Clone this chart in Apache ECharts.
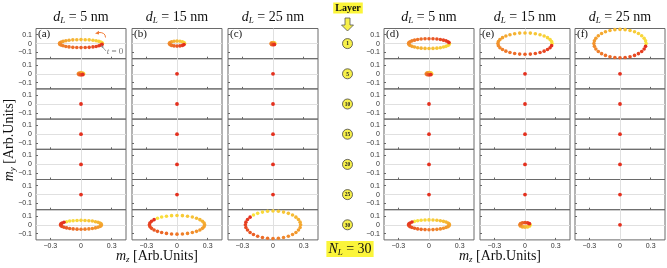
<!DOCTYPE html>
<html>
<head>
<meta charset="utf-8">
<script src="https://cdn.jsdelivr.net/npm/echarts@6/dist/echarts.min.js"></script>
<style>
html, body { margin: 0; padding: 0; background: #fff; }
#chart { width: 667px; height: 268px; }
</style>
</head>
<body>
<div id="chart"></div>
<script>
// layer numbers, film thickness per column, tick values
const layers = [1, 5, 10, 15, 20, 25, 30];
const thickness = [5, 15, 25, 5, 15, 25];
const panelNames = ['(a)', '(b)', '(c)', '(d)', '(e)', '(f)'];
const xTicks = [-0.3, 0, 0.3];
const yTicks = [-0.1, 0, 0.1];

// trajectories (m_z, m_y), in time order
const dot = [[0, 0]];
const a1 = [[0.21,0],[0.206,0.009],[0.194,0.017],[0.175,0.025],[0.148,0.032],[0.117,0.037],[0.08,0.042],[0.041,0.044],[0,0.045],[-0.041,0.044],[-0.08,0.042],[-0.117,0.037],[-0.148,0.032],[-0.175,0.025],[-0.194,0.017],[-0.206,0.009],[-0.21,0],[-0.206,-0.009],[-0.194,-0.017],[-0.175,-0.025],[-0.148,-0.032],[-0.117,-0.037],[-0.08,-0.042],[-0.041,-0.044],[0,-0.045],[0.041,-0.044],[0.08,-0.042],[0.117,-0.037],[0.148,-0.032],[0.175,-0.025],[0.194,-0.017],[0.206,-0.009]];
const a2 = [[0.025,0],[0.018,0.008],[0,0.012],[-0.018,0.008],[-0.025,0],[-0.018,-0.008],[0,-0.012],[0.018,-0.008]];
const a7 = [[-0.141,0.035],[-0.111,0.042],[-0.077,0.046],[-0.039,0.049],[0,0.05],[0.039,0.049],[0.077,0.046],[0.111,0.042],[0.141,0.035],[0.166,0.028],[0.185,0.019],[0.196,0.01],[0.2,0],[0.196,-0.01],[0.185,-0.019],[0.166,-0.028],[0.141,-0.035],[0.111,-0.042],[0.077,-0.046],[0.039,-0.049],[0,-0.05],[-0.039,-0.049],[-0.077,-0.046],[-0.111,-0.042],[-0.141,-0.035],[-0.166,-0.028],[-0.185,-0.019],[-0.196,-0.01],[-0.2,0],[-0.196,0.01],[-0.185,0.019],[-0.166,0.028]];
const b1 = [[0.075,0],[0.069,0.011],[0.053,0.02],[0.029,0.026],[0,0.028],[-0.029,0.026],[-0.053,0.02],[-0.069,0.011],[-0.075,0],[-0.069,-0.011],[-0.053,-0.02],[-0.029,-0.026],[0,-0.028],[0.029,-0.026],[0.053,-0.02],[0.069,-0.011]];
const b7 = [[-0.191,0.074],[-0.15,0.087],[-0.103,0.097],[-0.053,0.103],[0,0.105],[0.053,0.103],[0.103,0.097],[0.15,0.087],[0.191,0.074],[0.224,0.058],[0.249,0.04],[0.265,0.02],[0.27,0],[0.265,-0.02],[0.249,-0.04],[0.224,-0.058],[0.191,-0.074],[0.15,-0.087],[0.103,-0.097],[0.053,-0.103],[0,-0.105],[-0.053,-0.103],[-0.103,-0.097],[-0.15,-0.087],[-0.191,-0.074],[-0.224,-0.058],[-0.249,-0.04],[-0.265,-0.02],[-0.27,0],[-0.265,0.02],[-0.249,0.04],[-0.224,0.058]];
const c1 = [[0.018,0],[0.013,0.009],[0,0.012],[-0.013,0.009],[-0.018,0],[-0.013,-0.009],[0,-0.012],[0.013,-0.009]];
const c7 = [[-0.191,0.11],[-0.15,0.129],[-0.103,0.143],[-0.053,0.152],[0,0.155],[0.053,0.152],[0.103,0.143],[0.15,0.129],[0.191,0.11],[0.224,0.086],[0.249,0.059],[0.265,0.03],[0.27,0],[0.265,-0.03],[0.249,-0.059],[0.224,-0.086],[0.191,-0.11],[0.15,-0.129],[0.103,-0.143],[0.053,-0.152],[0,-0.155],[-0.053,-0.152],[-0.103,-0.143],[-0.15,-0.129],[-0.191,-0.11],[-0.224,-0.086],[-0.249,-0.059],[-0.265,-0.03],[-0.27,0],[-0.265,0.03],[-0.249,0.059],[-0.224,0.086]];
const d1 = [[0.2,0],[0.196,-0.011],[0.185,-0.021],[0.166,-0.031],[0.141,-0.039],[0.111,-0.046],[0.077,-0.051],[0.039,-0.054],[0,-0.055],[-0.039,-0.054],[-0.077,-0.051],[-0.111,-0.046],[-0.141,-0.039],[-0.166,-0.031],[-0.185,-0.021],[-0.196,-0.011],[-0.2,0],[-0.196,0.011],[-0.185,0.021],[-0.166,0.031],[-0.141,0.039],[-0.111,0.046],[-0.077,0.051],[-0.039,0.054],[0,0.055],[0.039,0.054],[0.077,0.051],[0.111,0.046],[0.141,0.039],[0.166,0.031],[0.185,0.021],[0.196,0.011]];
const d2 = [[0.026,0],[0.018,0.009],[0,0.012],[-0.018,0.009],[-0.026,0],[-0.018,-0.009],[0,-0.012],[0.018,-0.009]];
const d7 = [[-0.141,0.039],[-0.111,0.046],[-0.077,0.051],[-0.039,0.054],[0,0.055],[0.039,0.054],[0.077,0.051],[0.111,0.046],[0.141,0.039],[0.166,0.031],[0.185,0.021],[0.196,0.011],[0.2,0],[0.196,-0.011],[0.185,-0.021],[0.166,-0.031],[0.141,-0.039],[0.111,-0.046],[0.077,-0.051],[0.039,-0.054],[0,-0.055],[-0.039,-0.054],[-0.077,-0.051],[-0.111,-0.046],[-0.141,-0.039],[-0.166,-0.031],[-0.185,-0.021],[-0.196,-0.011],[-0.2,0],[-0.196,0.011],[-0.185,0.021],[-0.166,0.031]];
const e1 = [[0.265,0],[0.26,0.023],[0.245,0.046],[0.22,0.067],[0.187,0.085],[0.147,0.1],[0.101,0.111],[0.052,0.118],[0,0.12],[-0.052,0.118],[-0.101,0.111],[-0.147,0.1],[-0.187,0.085],[-0.22,0.067],[-0.245,0.046],[-0.26,0.023],[-0.265,0],[-0.26,-0.023],[-0.245,-0.046],[-0.22,-0.067],[-0.187,-0.085],[-0.147,-0.1],[-0.101,-0.111],[-0.052,-0.118],[0,-0.12],[0.052,-0.118],[0.101,-0.111],[0.147,-0.1],[0.187,-0.085],[0.22,-0.067],[0.245,-0.046],[0.26,-0.023]];
const e7 = [[0.05,0],[0.043,-0.013],[0.025,-0.022],[0,-0.025],[-0.025,-0.022],[-0.043,-0.013],[-0.05,0],[-0.043,0.013],[-0.025,0.022],[0,0.025],[0.025,0.022],[0.043,0.013]];
const f1 = [[0.255,0],[0.25,0.031],[0.236,0.061],[0.212,0.089],[0.18,0.113],[0.142,0.133],[0.098,0.148],[0.05,0.157],[0,0.16],[-0.05,0.157],[-0.098,0.148],[-0.142,0.133],[-0.18,0.113],[-0.212,0.089],[-0.236,0.061],[-0.25,0.031],[-0.255,0],[-0.25,-0.031],[-0.236,-0.061],[-0.212,-0.089],[-0.18,-0.113],[-0.142,-0.133],[-0.098,-0.148],[-0.05,-0.157],[0,-0.16],[0.05,-0.157],[0.098,-0.148],[0.142,-0.133],[0.18,-0.113],[0.212,-0.089],[0.236,-0.061],[0.25,-0.031]];

const panelA = [a1, a2, dot, dot, dot, dot, a7];
const panelB = [b1, dot, dot, dot, dot, dot, b7];
const panelC = [c1, dot, dot, dot, dot, dot, c7];
const panelD = [d1, d2, dot, dot, dot, dot, d7];
const panelE = [e1, dot, dot, dot, dot, dot, e7];
const panelF = [f1, dot, dot, dot, dot, dot, dot];
const panels = [panelA, panelB, panelC, panelD, panelE, panelF];

// layout
const colLeft = [36, 132, 228, 384, 480, 575];
const colW = 90;
const rowTop = 28.5;
const rowH = 30.2;
const serif = 'Liberation Serif';
const sans = 'Liberation Sans';

const yellow = [250, 228, 60], orange = [242, 150, 45], red = [228, 48, 30];
function mix(c1, c2, t) {
  return 'rgb(' + c1.map((v, i) => Math.round(v + (c2[i] - v) * t)).join(',') + ')';
}
function dotColor(i, n) {
  if (n === 1) return mix(red, red, 0);
  const t = i / (n - 1);
  return t < 0.5 ? mix(yellow, orange, t * 2) : mix(orange, red, (t - 0.5) * 2);
}
function tickFmt(v) {
  if (Math.abs(v) < 1e-9) return '0';
  return (v < 0 ? '\u2212' : '') + Math.abs(v);
}
function richMath(size, subSize, color) {
  return {
    i: { fontFamily: serif, fontStyle: 'italic', fontSize: size, lineHeight: size + 2, fill: color },
    s: { fontFamily: serif, fontStyle: 'italic', fontSize: subSize, lineHeight: subSize - 1, verticalAlign: 'bottom', fill: color },
    n: { fontFamily: serif, fontSize: size, lineHeight: size + 2, fill: color }
  };
}
function axisCommon(k, show, ticks, min, max, labelMargin, pos) {
  return {
    gridIndex: k, type: 'value', min: min, max: max, interval: max, position: pos,
    axisLine: { show: false, onZero: false },
    splitLine: { show: false },
    axisTick: { show: true, inside: true, length: 2, customValues: ticks, lineStyle: { color: '#666', type: 'solid' } },
    axisLabel: { show: show, customValues: ticks, formatter: tickFmt, fontSize: 7, margin: labelMargin, color: '#333', fontFamily: sans }
  };
}

const grids = [], xAxes = [], yAxes = [], series = [];
panels.forEach((rows, p) => {
  rows.forEach((pts, r) => {
    const k = grids.length;
    grids.push({
      left: colLeft[p], top: rowTop + r * rowH, width: colW, height: rowH,
      show: true, borderColor: '#6a6a6a', borderWidth: 1, backgroundColor: 'transparent'
    });
    xAxes.push(axisCommon(k, r === 6, xTicks, -0.44, 0.44, 3, 'bottom'));
    yAxes.push(axisCommon(k, p === 0 || p === 3, yTicks, -0.17, 0.17, 4, 'left'));
    // zero grid lines, kept under the dots
    series.push({
      type: 'scatter', xAxisIndex: k, yAxisIndex: k, data: JSON.parse(JSON.stringify(dot)),
      symbolSize: 0, silent: true, z: 1, itemStyle: { opacity: 0 },
      markLine: {
        z: 1, silent: true, symbol: ['none', 'none'], animation: false,
        label: { show: false },
        lineStyle: { color: '#e0e0e0', width: 1, type: 'solid' },
        emphasis: { disabled: true },
        data: [{ xAxis: 0 }, { yAxis: 0 }]
      }
    });
    series.push({
      type: 'scatter', xAxisIndex: k, yAxisIndex: k, data: pts, z: 6,
      symbolSize: pts.length > 12 ? 3.6 : 3.8,
      itemStyle: { opacity: 1, color: (q) => dotColor(q.dataIndex, pts.length) }
    });
  });
});

const graphic = [];
// column titles and panel letters
thickness.forEach((d, p) => {
  graphic.push({
    type: 'text', x: colLeft[p] + colW / 2, y: 17,
    style: { text: '{i|d}{s|L}{n| = ' + d + ' nm}', align: 'center', verticalAlign: 'middle', rich: richMath(14, 9, '#111') }
  });
  graphic.push({
    type: 'text', x: colLeft[p] + 2, y: rowTop + 6, z: 10,
    style: { text: panelNames[p], font: '11px ' + serif, fill: '#111', align: 'left', verticalAlign: 'middle' }
  });
});
// layer markers
graphic.push({
  type: 'text', x: 348, y: 8,
  style: { text: 'Layer', font: 'bold 10px ' + serif, fill: '#111', align: 'center', verticalAlign: 'middle', backgroundColor: '#fbf53a', padding: [1, 2, 0, 2] }
});
graphic.push({
  type: 'polygon',
  shape: { points: [[345, 18], [350, 18], [350, 25], [353.5, 25], [347.5, 31], [341.5, 25], [345, 25]] },
  style: { fill: '#f7f04a', stroke: '#555', lineWidth: 0.8 }
});
layers.forEach((n, r) => {
  const cy = rowTop + r * rowH + rowH / 2;
  graphic.push({
    type: 'circle', shape: { cx: 347.5, cy: cy, r: 5 },
    style: { fill: '#f7f04a', stroke: '#444', lineWidth: 0.8 }
  });
  graphic.push({
    type: 'text', x: 347.5, y: cy + 0.3,
    style: { text: String(n), font: 'bold 5.5px ' + serif, fill: '#222', align: 'center', verticalAlign: 'middle' }
  });
});
graphic.push({
  type: 'text', x: 350, y: 249,
  style: {
    text: '{i|N}{s|L}{n| = 30}', align: 'center', verticalAlign: 'middle', backgroundColor: '#fbf53a', padding: [0, 2, 0, 2],
    rich: richMath(14, 9, '#111')
  }
});
// axis titles
graphic.push({
  type: 'text', x: 9, y: 140, rotation: Math.PI / 2,
  style: { text: '{i|m}{s|y}{n| [Arb.Units]}', align: 'center', verticalAlign: 'middle', rich: richMath(14, 9, '#111') }
});
[157, 500].forEach((cx) => {
  graphic.push({
    type: 'text', x: cx, y: 256,
    style: { text: '{i|m}{s|z}{n| [Arb.Units]}', align: 'center', verticalAlign: 'middle', rich: richMath(14, 9, '#111') }
  });
});
// t = 0 annotation in (a)
graphic.push({
  type: 'text', x: 115, y: 52, z: 10,
  style: {
    text: '{i|t}{n| = 0}', align: 'center', verticalAlign: 'middle',
    rich: {
      i: { fontFamily: serif, fontStyle: 'italic', fontSize: 9, fill: '#777' },
      n: { fontFamily: serif, fontSize: 9, fill: '#777' }
    }
  }
});
graphic.push({
  type: 'line', z: 10, shape: { x1: 106, y1: 51, x2: 102, y2: 46.5 },
  style: { stroke: '#888', lineWidth: 0.8 }
});
graphic.push({
  type: 'polygon', z: 10, shape: { points: [[101, 45], [104, 47], [102, 48]] },
  style: { fill: '#888' }
});
graphic.push({
  type: 'bezierCurve', z: 10,
  shape: { x1: 105.5, y1: 37.5, cpx1: 105.5, cpy1: 32, x2: 98, y2: 32.5 },
  style: { stroke: '#f07a35', lineWidth: 1, fill: null }
});
graphic.push({
  type: 'polygon', z: 10, shape: { points: [[95, 33.5], [99, 30.8], [99, 34.6]] },
  style: { fill: '#f07a35' }
});

const chart = echarts.init(document.getElementById('chart'));
chart.setOption({
  animation: false,
  grid: grids,
  xAxis: xAxes,
  yAxis: yAxes,
  series: series,
  graphic: graphic
});
</script>
</body>
</html>
